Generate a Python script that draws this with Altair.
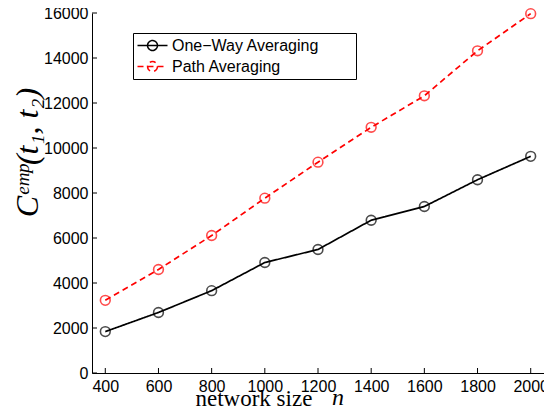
import altair as alt
import pandas as pd

n_values = [400, 600, 800, 1000, 1200, 1400, 1600, 1800, 2000]
one_way = [1840, 2690, 3660, 4910, 5490, 6790, 7400, 8590, 9630]
path_avg = [3230, 4600, 6110, 7770, 9370, 10920, 12320, 14320, 15970]
series_names = ["One\u2212Way Averaging", "Path Averaging"]
x_ticks = [400, 600, 800, 1000, 1200, 1400, 1600, 1800, 2000]
y_ticks = [0, 2000, 4000, 6000, 8000, 10000, 12000, 14000, 16000]

df = pd.DataFrame({
    "n": n_values * 2,
    "value": one_way + path_avg,
    "series": [series_names[0]] * len(n_values) + [series_names[1]] * len(n_values),
})
xt = pd.DataFrame({"t": x_ticks})
yt = pd.DataFrame({"t": y_ticks})

W, H = 452, 360
xscale = alt.Scale(domain=[350, 2050], nice=False, zero=False)
yscale = alt.Scale(domain=[0, 16000], nice=False)
color = alt.Color("series:N", sort=series_names,
                  scale=alt.Scale(domain=series_names, range=["#000000", "#ff0000"]),
                  legend=alt.Legend(
                      title=None, orient="none", legendX=41, legendY=20,
                      strokeColor="#000000", fillColor="#ffffff", padding=4,
                      labelFont="Liberation Sans", labelFontSize=16, labelColor="#000000",
                      labelOffset=11, labelLimit=400,
                      labelExpr="datum.label + '\u2003\u2003\u200b'",
                      symbolType="M-2,0L2,0M0.66,0A0.66,0.66,0,1,1,-0.66,0A0.66,0.66,0,1,1,0.66,0",
                      symbolSize=225, symbolStrokeWidth=1.5, symbolFillColor="transparent",
                      rowPadding=4, symbolOffset=7))
dash = alt.StrokeDash("series:N", sort=series_names,
                      scale=alt.Scale(domain=series_names, range=[[1, 0], [6, 4]]),
                      legend=None)

base = alt.Chart(df)
lines = base.mark_line(strokeWidth=1.7).encode(
    x=alt.X("n:Q", scale=xscale,
            axis=alt.Axis(values=x_ticks, format="d", ticks=False, grid=False,
                          labelFont="Liberation Sans",
                          labelFontSize=16, labelColor="#000000", labelPadding=5,
                          domainColor="#000000", title="network size",
                          titleFont="Liberation Serif", titleFontSize=23, titleFontWeight="normal",
                          titleColor="#000000", titleX=103, titleY=32, titleAlign="left",
                          titleBaseline="alphabetic", titleAnchor="start")),
    y=alt.Y("value:Q", scale=yscale,
            axis=alt.Axis(values=y_ticks, format="d", ticks=False, grid=False,
                          labelFont="Liberation Sans",
                          labelFontSize=16, labelColor="#000000", labelPadding=4,
                          domainColor="#000000",
                          title="C\u1d49\u1d50\u1d56(t\u2081, t\u2082)",
                          titleFont="Liberation Serif", titleFontStyle="italic",
                          titleFontSize=32, titleFontWeight="normal", titleColor="#000000",
                          titleAngle=270, titleX=-55, titleY=139, titleAlign="center",
                          titleBaseline="alphabetic")),
    color=color,
    strokeDash=dash,
)
points = base.mark_point(shape="circle", filled=False, size=95, strokeWidth=1.6).encode(
    x=alt.X("n:Q", scale=xscale),
    y=alt.Y("value:Q", scale=yscale),
    color=alt.Color("series:N", sort=series_names,
                    scale=alt.Scale(domain=series_names, range=["#000000", "#ff0000"]),
                    legend=None),
)
xticks = alt.Chart(xt).mark_rule(color="#000000", strokeWidth=1).encode(
    x=alt.X("t:Q", scale=xscale), y=alt.value(H), y2=alt.value(H - 5))
yticks = alt.Chart(yt).mark_rule(color="#000000", strokeWidth=1).encode(
    y=alt.Y("t:Q", scale=yscale), x=alt.value(0), x2=alt.value(5))
n_label = alt.Chart(pd.DataFrame({"s": ["n"]})).mark_text(
    font="Liberation Serif", fontStyle="italic", fontSize=24, align="left",
    baseline="alphabetic", color="#000000").encode(
    text="s:N", x=alt.value(240), y=alt.value(H + 32))

chart = alt.layer(xticks, yticks, lines, points, n_label).properties(
    width=W, height=H,
    padding={"left": 84, "top": 5, "right": 0, "bottom": 38},
    autosize=alt.AutoSizeParams(type="none"),
).configure_view(stroke=None).configure_axis(domainWidth=1)

chart.save("out.html", embed_options={"renderer": "svg", "actions": False})
